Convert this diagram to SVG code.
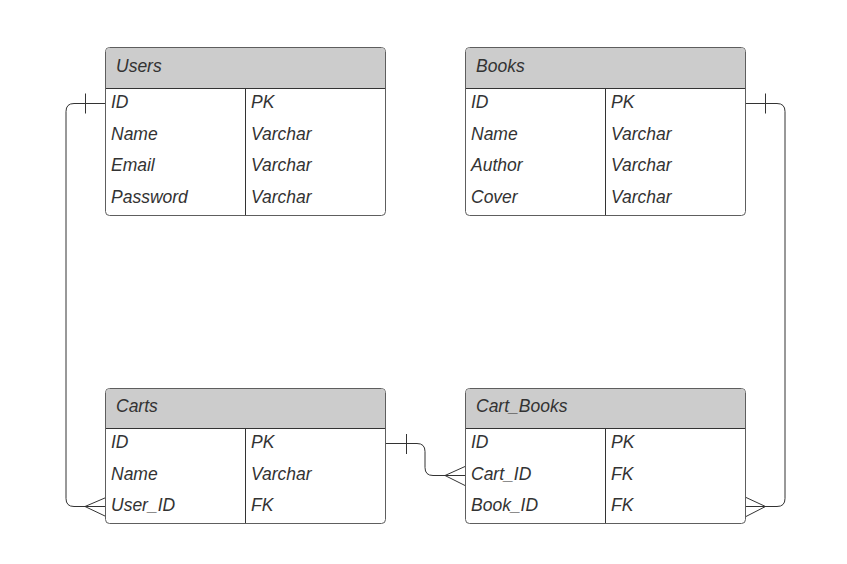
<svg xmlns="http://www.w3.org/2000/svg" width="847" height="564" viewBox="0 0 847 564">
<style>
.bg{fill:#ffffff}
.box{fill:#ffffff;stroke:#5e5e5e;stroke-width:1}
.hdr{fill:#cccccc}
.sep{stroke:#333333;stroke-width:1;fill:none}
.t{font-family:"Liberation Sans",Arial,sans-serif;font-style:italic;font-size:17.5px;fill:#333333}
.c{fill:none;stroke:#333333;stroke-width:1}
</style>
<rect class="bg" x="0" y="0" width="847" height="564"/>
<g id="connectors">
  <!-- Users.ID -> Carts.User_ID -->
  <path class="c" d="M106,103.5 H74 Q66,103.5 66,111.5 V498.5 Q66,506.5 74,506.5 H106"/>
  <path class="c" d="M85.5,93.5 V113.5"/>
  <path class="c" d="M85,506.5 L106,497.5 M85,506.5 L106,516.5"/>
  <!-- Carts.ID -> Cart_Books.Cart_ID -->
  <path class="c" d="M385,443.5 H417 Q425,443.5 425,451.5 V467.5 Q425,475.5 433,475.5 H465"/>
  <path class="c" d="M406.5,434 V454"/>
  <path class="c" d="M445,475.5 L465,466.5 M445,475.5 L465,485.5"/>
  <!-- Books.ID -> Cart_Books.Book_ID -->
  <path class="c" d="M745,103.5 H777 Q785,103.5 785,111.5 V498.5 Q785,506.5 777,506.5 H745"/>
  <path class="c" d="M765.5,93.5 V113.5"/>
  <path class="c" d="M765.5,506.5 L745,497 M765.5,506.5 L745,517"/>
</g>
<g id="users">
  <rect class="box" x="105.5" y="47.5" width="280" height="168" rx="4"/>
  <path class="hdr" d="M109.5,48 H381.5 Q385,48 385,51.5 V88 H106 V51.5 Q106,48 109.5,48 Z"/>
  <path class="sep" d="M106,88.5 H385 M245.5,88.5 V215"/>
  <text class="t" x="116" y="72">Users</text>
  <text class="t" x="111" y="108">ID</text><text class="t" x="251" y="108">PK</text>
  <text class="t" x="111" y="139.7">Name</text><text class="t" x="251" y="139.7">Varchar</text>
  <text class="t" x="111" y="171.4">Email</text><text class="t" x="251" y="171.4">Varchar</text>
  <text class="t" x="111" y="203.1">Password</text><text class="t" x="251" y="203.1">Varchar</text>
</g>
<g id="books">
  <rect class="box" x="465.5" y="47.5" width="280" height="168" rx="4"/>
  <path class="hdr" d="M469.5,48 H741.5 Q745,48 745,51.5 V88 H466 V51.5 Q466,48 469.5,48 Z"/>
  <path class="sep" d="M466,88.5 H745 M605.5,88.5 V215"/>
  <text class="t" x="476" y="72">Books</text>
  <text class="t" x="471" y="108">ID</text><text class="t" x="611" y="108">PK</text>
  <text class="t" x="471" y="139.7">Name</text><text class="t" x="611" y="139.7">Varchar</text>
  <text class="t" x="471" y="171.4">Author</text><text class="t" x="611" y="171.4">Varchar</text>
  <text class="t" x="471" y="203.1">Cover</text><text class="t" x="611" y="203.1">Varchar</text>
</g>
<g id="carts">
  <rect class="box" x="105.5" y="388.5" width="280" height="135" rx="4"/>
  <path class="hdr" d="M109.5,389 H381.5 Q385,389 385,392.5 V428 H106 V392.5 Q106,389 109.5,389 Z"/>
  <path class="sep" d="M106,428.5 H385 M245.5,428.5 V523"/>
  <text class="t" x="116" y="412">Carts</text>
  <text class="t" x="111" y="448">ID</text><text class="t" x="251" y="448">PK</text>
  <text class="t" x="111" y="479.7">Name</text><text class="t" x="251" y="479.7">Varchar</text>
  <text class="t" x="111" y="511.4">User_ID</text><text class="t" x="251" y="511.4">FK</text>
</g>
<g id="cart_books">
  <rect class="box" x="465.5" y="388.5" width="280" height="135" rx="4"/>
  <path class="hdr" d="M469.5,389 H741.5 Q745,389 745,392.5 V428 H466 V392.5 Q466,389 469.5,389 Z"/>
  <path class="sep" d="M466,428.5 H745 M605.5,428.5 V523"/>
  <text class="t" x="476" y="412">Cart_Books</text>
  <text class="t" x="471" y="448">ID</text><text class="t" x="611" y="448">PK</text>
  <text class="t" x="471" y="479.7">Cart_ID</text><text class="t" x="611" y="479.7">FK</text>
  <text class="t" x="471" y="511.4">Book_ID</text><text class="t" x="611" y="511.4">FK</text>
</g>
</svg>
